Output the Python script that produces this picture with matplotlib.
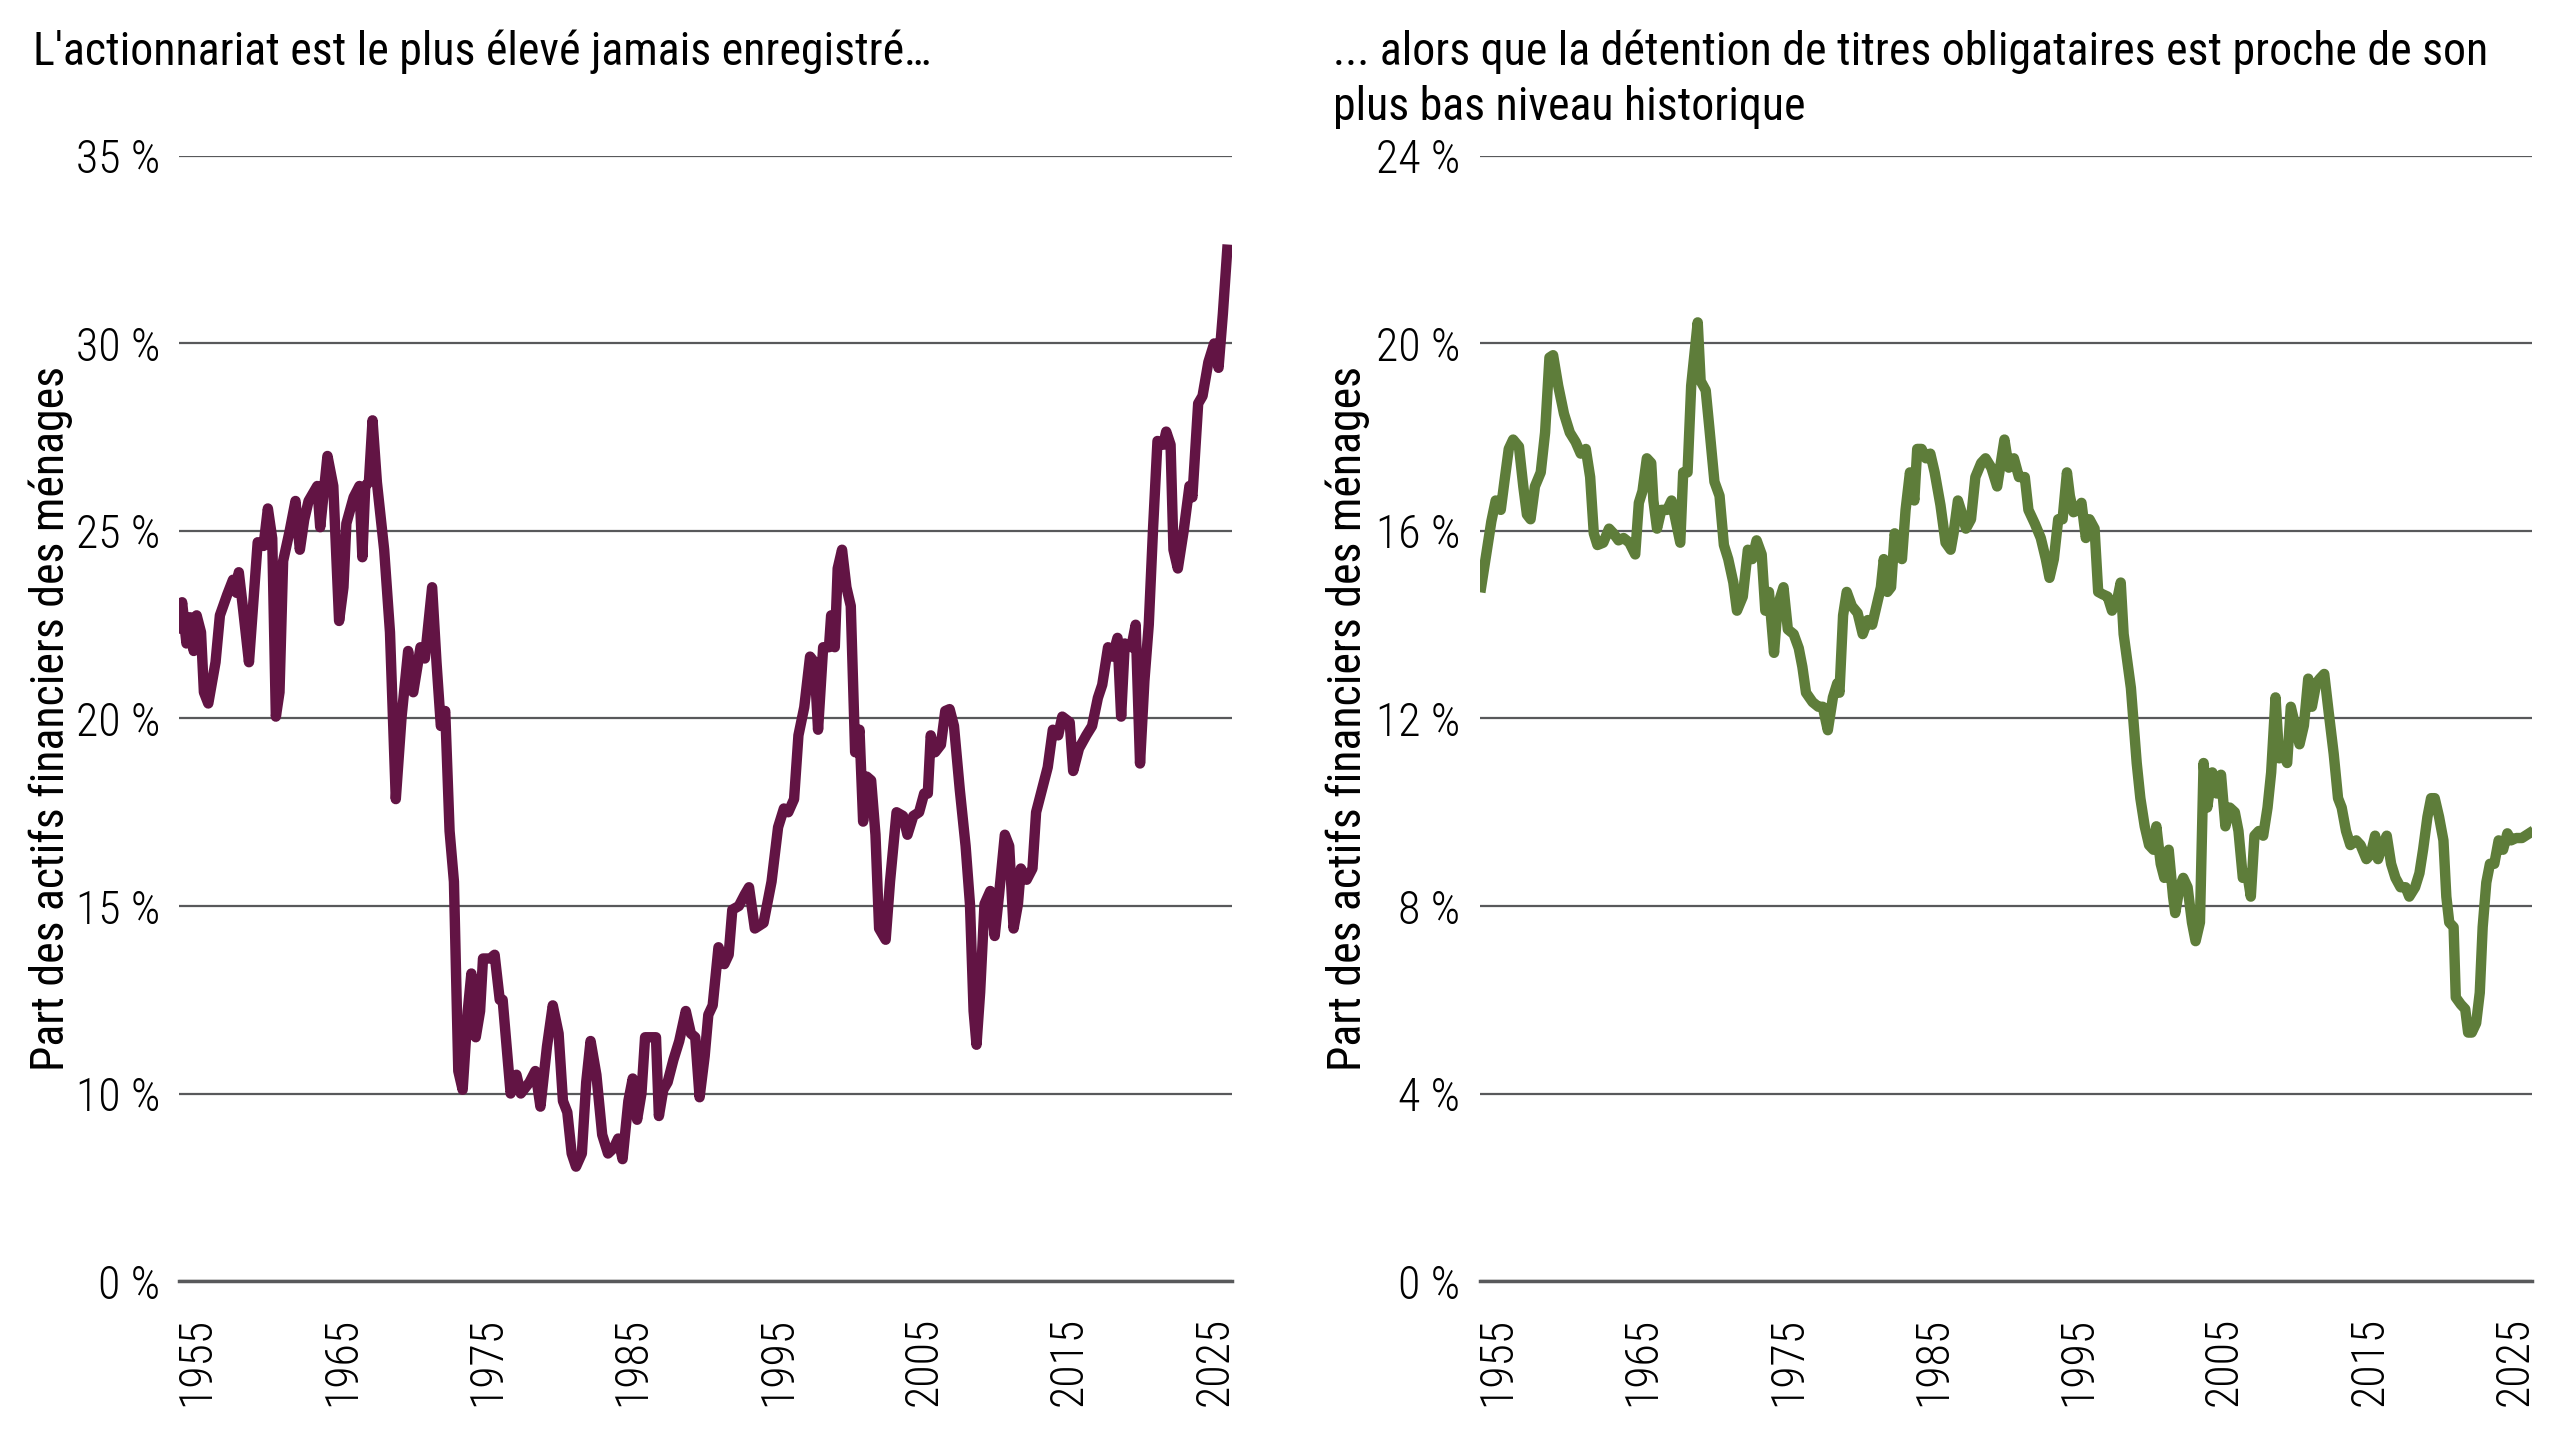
import matplotlib
matplotlib.use("Agg")
import matplotlib.pyplot as plt
from matplotlib import font_manager

# police condensée si dispo
noms = {f.name for f in font_manager.fontManager.ttflist}
POLICE = "DejaVu Sans"
for fam in ["Roboto Condensed", "Liberation Sans Narrow", "Roboto"]:
    if fam in noms:
        POLICE = fam
        break
plt.rcParams["font.family"] = [POLICE, "DejaVu Sans"]

# ---- données ----
annees_actions = [
    1953.8, 1954.0, 1954.3, 1954.55, 1954.8, 1955.0, 1955.3, 1955.5, 1955.8, 1956.3,
    1956.6, 1957.1, 1957.5, 1957.75, 1957.9, 1958.2, 1958.6, 1959.2, 1959.6, 1959.9,
    1960.2, 1960.45, 1960.7, 1960.95, 1961.4, 1961.8, 1962.1, 1962.4, 1962.7, 1963.3,
    1963.5, 1964.0, 1964.4, 1964.8, 1965.1, 1965.3, 1965.8, 1966.2, 1966.4, 1966.6,
    1966.85, 1967.1, 1967.4, 1967.9, 1968.3, 1968.7, 1969.1, 1969.55, 1969.9, 1970.4,
    1970.7, 1971.2, 1971.5, 1971.8, 1972.1, 1972.4, 1972.7, 1973.0, 1973.3, 1973.65,
    1973.9, 1974.2, 1974.5, 1974.7, 1975.2, 1975.5, 1975.85, 1976.05, 1976.6, 1977.0,
    1977.3, 1977.9, 1978.3, 1978.65, 1979.1, 1979.5, 1979.9, 1980.2, 1980.5, 1980.8,
    1981.1, 1981.5, 1981.8, 1982.1, 1982.5, 1982.9, 1983.3, 1983.7, 1984.0, 1984.3,
    1984.7, 1985.0, 1985.3, 1985.6, 1985.85, 1986.2, 1986.6, 1986.8, 1987.1, 1987.4,
    1987.8, 1988.2, 1988.65, 1989.0, 1989.3, 1989.6, 1989.95, 1990.2, 1990.5, 1990.9,
    1991.3, 1991.6, 1991.85, 1992.3, 1992.7, 1993.0, 1993.4, 1994.0, 1994.55, 1995.0,
    1995.4, 1995.7, 1996.1, 1996.4, 1996.8, 1997.2, 1997.5, 1997.75, 1998.1, 1998.5,
    1998.65, 1998.9, 1999.1, 1999.4, 1999.7, 2000.0, 2000.3, 2000.6, 2000.85, 2001.1,
    2001.4, 2001.7, 2001.95, 2002.4, 2002.7, 2003.15, 2003.6, 2003.9, 2004.3, 2004.7,
    2005.05, 2005.3, 2005.5, 2005.8, 2006.2, 2006.5, 2006.8, 2007.1, 2007.5, 2007.9,
    2008.2, 2008.45, 2008.65, 2008.9, 2009.2, 2009.6, 2009.9, 2010.2, 2010.6, 2010.9,
    2011.2, 2011.5, 2011.7, 2012.1, 2012.5, 2012.75, 2013.15, 2013.55, 2013.9, 2014.27,
    2014.55, 2015.06, 2015.3, 2015.7, 2016.2, 2016.6, 2017.0, 2017.3, 2017.7, 2018.0,
    2018.35, 2018.6, 2018.85, 2019.3, 2019.6, 2019.9, 2020.2, 2020.5, 2020.8, 2021.1,
    2021.5, 2021.7, 2022.0, 2022.2, 2022.5, 2022.9, 2023.3, 2023.5, 2023.9, 2024.2,
    2024.6, 2025.0, 2025.3, 2025.6, 2025.9,
]
part_actions = [
    22.4, 23.1, 22.0, 22.7, 21.8, 22.75, 22.3, 20.7, 20.4, 21.5,
    22.75, 23.3, 23.7, 23.35, 23.9, 22.9, 21.5, 24.7, 24.6, 25.6,
    24.8, 20.05, 20.7, 24.2, 25.0, 25.8, 24.5, 25.3, 25.8, 26.2,
    25.1, 27.0, 26.2, 22.6, 23.5, 25.2, 25.9, 26.2, 24.3, 26.2,
    26.3, 27.95, 26.3, 24.5, 22.3, 17.85, 20.05, 21.8, 20.7, 21.9,
    21.6, 23.5, 21.5, 19.8, 20.2, 17.0, 15.65, 10.6, 10.1, 12.2,
    13.2, 11.5, 12.2, 13.6, 13.6, 13.7, 12.5, 12.5, 10.0, 10.5,
    10.0, 10.3, 10.6, 9.65, 11.25, 12.35, 11.6, 9.8, 9.5, 8.4,
    8.05, 8.4, 10.3, 11.4, 10.5, 8.9, 8.4, 8.55, 8.8, 8.25,
    9.8, 10.4, 9.3, 10.0, 11.5, 11.5, 11.5, 9.4, 10.1, 10.3,
    10.9, 11.4, 12.2, 11.6, 11.5, 9.9, 11.0, 12.1, 12.35, 13.9,
    13.45, 13.7, 14.9, 15.0, 15.3, 15.5, 14.4, 14.55, 15.65, 17.1,
    17.6, 17.5, 17.85, 19.55, 20.3, 21.65, 21.5, 19.7, 21.9, 21.9,
    22.75, 21.9, 24.0, 24.5, 23.5, 23.0, 19.1, 19.7, 17.25, 18.45,
    18.35, 16.9, 14.4, 14.1, 15.65, 17.5, 17.4, 16.9, 17.4, 17.5,
    18.0, 18.0, 19.55, 19.1, 19.3, 20.2, 20.25, 19.8, 18.1, 16.6,
    15.05, 12.2, 11.3, 12.7, 15.05, 15.4, 14.2, 15.3, 16.9, 16.6,
    14.4, 15.05, 16.0, 15.7, 16.0, 17.5, 18.1, 18.7, 19.7, 19.55,
    20.05, 19.9, 18.6, 19.2, 19.55, 19.8, 20.55, 20.9, 21.9, 21.65,
    22.15, 20.05, 22.0, 21.9, 22.5, 18.8, 21.0, 22.5, 25.1, 27.4,
    27.3, 27.65, 27.3, 24.5, 24.0, 25.0, 26.2, 25.9, 28.4, 28.6,
    29.5, 30.0, 29.35, 30.8, 32.5,
]

annees_oblig = [
    1953.9, 1954.2, 1954.6, 1954.9, 1955.25, 1955.5, 1955.8, 1956.1, 1956.5, 1956.8,
    1957.05, 1957.3, 1957.6, 1958.0, 1958.3, 1958.6, 1958.85, 1959.2, 1959.6, 1960.0,
    1960.4, 1960.75, 1961.1, 1961.4, 1961.65, 1961.9, 1962.3, 1962.7, 1963.0, 1963.35,
    1963.7, 1964.1, 1964.5, 1964.75, 1965.0, 1965.3, 1965.6, 1965.75, 1966.0, 1966.3,
    1966.7, 1967.0, 1967.4, 1967.6, 1967.8, 1968.1, 1968.35, 1968.55, 1968.8, 1969.0,
    1969.35, 1969.6, 1969.95, 1970.3, 1970.6, 1970.9, 1971.25, 1971.5, 1971.9, 1972.25,
    1972.55, 1972.85, 1973.2, 1973.45, 1973.7, 1974.05, 1974.3, 1974.7, 1975.0, 1975.4,
    1975.75, 1976.0, 1976.25, 1976.7, 1977.1, 1977.4, 1977.75, 1978.1, 1978.4, 1978.55,
    1978.8, 1979.05, 1979.4, 1979.8, 1980.15, 1980.5, 1980.8, 1981.1, 1981.4, 1981.6,
    1981.85, 1982.1, 1982.35, 1982.6, 1982.85, 1983.1, 1983.4, 1983.7, 1983.9, 1984.2,
    1984.5, 1984.8, 1985.1, 1985.5, 1985.85, 1986.2, 1986.4, 1986.7, 1987.0, 1987.25,
    1987.6, 1987.9, 1988.3, 1988.6, 1989.0, 1989.4, 1989.6, 1989.9, 1990.2, 1990.55,
    1990.9, 1991.3, 1991.55, 1992.0, 1992.4, 1992.75, 1993.0, 1993.3, 1993.6, 1993.9,
    1994.2, 1994.4, 1994.65, 1995.0, 1995.2, 1995.5, 1995.75, 1996.1, 1996.35, 1996.65,
    1997.0, 1997.3, 1997.7, 1997.9, 1998.1, 1998.6, 1999.0, 1999.25, 1999.55, 1999.85,
    2000.15, 2000.35, 2000.65, 2000.9, 2001.2, 2001.5, 2001.65, 2001.95, 2002.2, 2002.5,
    2002.8, 2003.05, 2003.35, 2003.6, 2003.85, 2004.2, 2004.5, 2004.8, 2005.1, 2005.4,
    2005.75, 2006.0, 2006.3, 2006.6, 2006.85, 2007.1, 2007.4, 2007.7, 2008.0, 2008.25,
    2008.55, 2008.8, 2009.05, 2009.35, 2009.6, 2009.9, 2010.2, 2010.5, 2010.8, 2011.05,
    2011.35, 2011.6, 2011.9, 2012.2, 2012.55, 2012.85, 2013.1, 2013.4, 2013.7, 2014.1,
    2014.4, 2014.8, 2015.1, 2015.4, 2015.6, 2015.9, 2016.2, 2016.5, 2016.8, 2017.15,
    2017.5, 2017.75, 2018.15, 2018.45, 2018.7, 2019.0, 2019.25, 2019.5, 2019.8, 2020.1,
    2020.3, 2020.5, 2020.8, 2020.95, 2021.3, 2021.6, 2021.8, 2022.05, 2022.35, 2022.6,
    2022.8, 2023.05, 2023.3, 2023.6, 2023.9, 2024.2, 2024.5, 2024.75, 2025.1, 2025.5,
    2026.0,
]
part_oblig = [
    14.8, 15.4, 16.2, 16.65, 16.45, 17.05, 17.75, 17.95, 17.8, 16.95,
    16.35, 16.25, 16.95, 17.25, 18.1, 19.7, 19.75, 19.1, 18.5, 18.1,
    17.9, 17.65, 17.75, 17.15, 15.95, 15.7, 15.75, 16.05, 15.95, 15.8,
    15.85, 15.75, 15.5, 16.6, 16.85, 17.55, 17.45, 16.65, 16.05, 16.45,
    16.45, 16.65, 16.05, 15.75, 17.25, 17.25, 19.1, 19.7, 20.45, 19.2,
    19.0, 18.2, 17.05, 16.75, 15.7, 15.4, 14.9, 14.3, 14.6, 15.6,
    15.4, 15.8, 15.5, 14.3, 14.7, 13.4, 14.4, 14.8, 13.9, 13.8,
    13.5, 13.1, 12.55, 12.35, 12.25, 12.25, 11.75, 12.45, 12.75, 12.55,
    14.2, 14.7, 14.4, 14.25, 13.8, 14.1, 14.0, 14.4, 14.8, 15.4,
    14.7, 14.8, 15.95, 15.6, 15.4, 16.45, 17.25, 16.65, 17.75, 17.75,
    17.55, 17.65, 17.25, 16.55, 15.75, 15.6, 15.95, 16.65, 16.35, 16.05,
    16.25, 17.15, 17.45, 17.55, 17.35, 16.95, 17.35, 17.95, 17.35, 17.55,
    17.15, 17.15, 16.45, 16.15, 15.85, 15.4, 15.0, 15.4, 16.25, 16.25,
    17.25, 16.75, 16.4, 16.45, 16.6, 15.85, 16.25, 16.05, 14.7, 14.65,
    14.6, 14.3, 14.6, 14.9, 13.8, 12.65, 11.05, 10.3, 9.7, 9.3,
    9.2, 9.7, 8.9, 8.6, 9.2, 8.2, 7.85, 8.4, 8.6, 8.4,
    7.65, 7.25, 7.65, 11.05, 10.1, 10.85, 10.4, 10.8, 9.7, 10.1,
    10.0, 9.6, 8.6, 8.7, 8.2, 9.5, 9.6, 9.5, 10.1, 10.85,
    12.45, 11.15, 11.25, 11.05, 12.25, 11.85, 11.45, 11.85, 12.85, 12.25,
    12.75, 12.85, 12.95, 12.15, 11.25, 10.3, 10.1, 9.6, 9.3, 9.4,
    9.3, 9.0, 9.1, 9.5, 9.0, 9.3, 9.5, 8.9, 8.6, 8.4,
    8.4, 8.2, 8.4, 8.7, 9.2, 9.9, 10.3, 10.3, 9.9, 9.4,
    8.2, 7.65, 7.55, 6.05, 5.9, 5.8, 5.3, 5.3, 5.5, 6.15,
    7.55, 8.5, 8.9, 8.9, 9.4, 9.2, 9.55, 9.4, 9.45, 9.45,
    9.55,
]

annees_ticks = [1955, 1965, 1975, 1985, 1995, 2005, 2015, 2025]
ticks_actions = [5, 10, 15, 20, 25, 30, 35]
labels_actions = ["0 %", "10 %", "15 %", "20 %", "25 %", "30 %", "35 %"]
ticks_oblig = [0, 4, 8, 12, 16, 20, 24]
labels_oblig = ["0 %", "4 %", "8 %", "12 %", "16 %", "20 %", "24 %"]

titre_g = "L'actionnariat est le plus élevé jamais enregistré…"
titre_d1 = "... alors que la détention de titres obligataires est proche de son"
titre_d2 = "plus bas niveau historique"
ylabel = "Part des actifs financiers des ménages"

VIOLET = "#621444"
VERT = "#5e7d3a"
GRIS = "#58595b"
TAILLE = 33

fig = plt.figure(figsize=(25.6, 14.4), dpi=100)
ax1 = fig.add_axes([0.0700, 0.1104, 0.4111, 0.7813])
ax2 = fig.add_axes([0.5780, 0.1104, 0.4111, 0.7813])


def habiller(ax, yticks, ylabels):
    ax.set_xlim(1953.8, 2026.2)
    ax.set_ylim(yticks[0], yticks[-1])
    ax.set_yticks(yticks)
    ax.set_yticklabels(ylabels)
    ax.set_xticks(annees_ticks)
    ax.set_xticklabels([str(a) for a in annees_ticks], rotation=90)
    ax.grid(axis="y", color=GRIS, linewidth=1.6)
    ax.set_axisbelow(True)
    for s in ["top", "right", "left"]:
        ax.spines[s].set_visible(False)
    ax.spines["bottom"].set_color(GRIS)
    ax.spines["bottom"].set_linewidth(2.5)
    ax.tick_params(axis="both", length=0, labelsize=TAILLE)
    ax.tick_params(axis="y", pad=14)
    ax.tick_params(axis="x", pad=26)
    for lab in ax.get_xticklabels() + ax.get_yticklabels():
        lab.set_fontweight("light")


ax1.plot(annees_actions, part_actions, color=VIOLET, linewidth=7.5, solid_joinstyle="round")
habiller(ax1, ticks_actions, labels_actions)

ax2.plot(annees_oblig, part_oblig, color=VERT, linewidth=7.5, solid_joinstyle="round")
habiller(ax2, ticks_oblig, labels_oblig)

fig.text(0.0127, 0.9549, titre_g, fontsize=TAILLE, va="baseline", ha="left")
fig.text(0.5207, 0.9549, titre_d1, fontsize=TAILLE, va="baseline", ha="left")
fig.text(0.5207, 0.9167, titre_d2, fontsize=TAILLE, va="baseline", ha="left")
fig.text(0.0200, 0.501, ylabel, fontsize=TAILLE, rotation=90, va="center", ha="center")
fig.text(0.5266, 0.501, ylabel, fontsize=TAILLE, rotation=90, va="center", ha="center")

fig.savefig("out.png", dpi=100)
